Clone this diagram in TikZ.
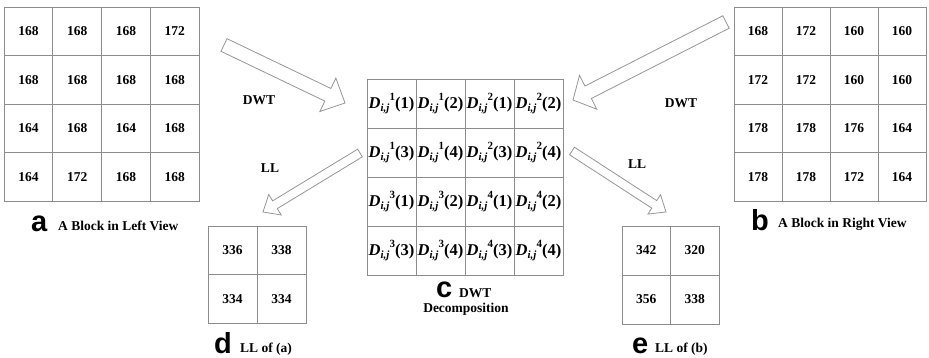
\documentclass[tikz,border=0pt]{standalone}
\usepackage{fontspec}
\setmainfont{Liberation Serif}
\newfontfamily\lblfont{Liberation Sans}
\usetikzlibrary{calc}
\definecolor{gridgray}{RGB}{140,140,140}
\definecolor{arrgray}{RGB}{150,150,150}
\newcommand\Dl[2]{\textbf{\textit{D}}\raisebox{-0.4ex}{\fontsize{11}{11}\selectfont\textbf{\textit{i,j}}}\raisebox{0.95ex}{\fontsize{11}{11}\selectfont\textbf{#1}}\textbf{(#2)}}
\newcommand\blockarrow[5]{%
  \coordinate (tmpB) at ($(#2)!#5!(#1)$);
  \draw[arrowline] ($(#1)!#3!90:(#2)$) -- ($(tmpB)!#3!90:(#2)$) -- ($(tmpB)!#4!90:(#2)$) -- (#2)
    -- ($(tmpB)!#4!-90:(#2)$) -- ($(tmpB)!#3!-90:(#2)$) -- ($(#1)!#3!-90:(#2)$) -- cycle;}
\tikzset{
  cell/.style={draw=gridgray, line width=0.8pt, inner sep=0pt, font=\bfseries\fontsize{13.5}{13.5}\selectfont},
  dcell/.style={draw=gridgray, line width=0.8pt, inner sep=0pt, font=\fontsize{16.5}{16.5}\selectfont},
  arrowline/.style={draw=arrgray, line width=0.8pt, fill=white, line join=miter},
  txt/.style={font=\bfseries\fontsize{13.5}{13.5}\selectfont, inner sep=0pt},
  big/.style={font=\lblfont\bfseries\fontsize{29}{29}\selectfont, inner sep=0pt},
}
\begin{document}
\begin{tikzpicture}[x=1pt,y=-1pt]
\useasboundingbox[fill=white] (0,0) rectangle (929,358);
% grid a
\foreach \v [count=\k from 0] in {168,168,168,172,168,168,168,168,164,168,164,168,164,172,168,168} {
  \pgfmathsetmacro\cx{4+24.375+48.75*mod(\k,4)}
  \pgfmathsetmacro\cy{7+24.25+48.5*int(\k/4)}
  \node[cell, minimum width=48.75pt, minimum height=48.5pt] (a-\k) at (\cx,\cy) {\v};
}
% grid b
\foreach \v [count=\k from 0] in {168,172,160,160,172,172,160,160,178,178,176,164,178,178,172,164} {
  \pgfmathsetmacro\cx{734+24+48*mod(\k,4)}
  \pgfmathsetmacro\cy{7+24.25+48.5*int(\k/4)}
  \node[cell, minimum width=48pt, minimum height=48.5pt] (b-\k) at (\cx,\cy) {\v};
}
% grid c
\foreach \v [count=\k from 0] in {\Dl{1}{1},\Dl{1}{2},\Dl{2}{1},\Dl{2}{2},\Dl{1}{3},\Dl{1}{4},\Dl{2}{3},\Dl{2}{4},\Dl{3}{1},\Dl{3}{2},\Dl{4}{1},\Dl{4}{2},\Dl{3}{3},\Dl{3}{4},\Dl{4}{3},\Dl{4}{4}} {
  \pgfmathsetmacro\cx{367+24.5+49*mod(\k,4)}
  \pgfmathsetmacro\cy{79+24.5+49*int(\k/4)}
  \node[dcell, minimum width=49pt, minimum height=49pt] (c-\k) at (\cx,\cy) {\v};
}
% grid d
\foreach \v [count=\k from 0] in {336,338,334,334} {
  \pgfmathsetmacro\cx{208+24.5+49*mod(\k,2)}
  \pgfmathsetmacro\cy{226+24.25+48.5*int(\k/2)}
  \node[cell, minimum width=49pt, minimum height=48.5pt] (d-\k) at (\cx,\cy) {\v};
}
% grid e
\foreach \v [count=\k from 0] in {342,320,356,338} {
  \pgfmathsetmacro\cx{622+24.25+48.5*mod(\k,2)}
  \pgfmathsetmacro\cy{226+24.5+49*int(\k/2)}
  \node[cell, minimum width=48.5pt, minimum height=49pt] (e-\k) at (\cx,\cy) {\v};
}
% arrows
\coordinate (dwtL-tail) at (224,45);
\coordinate (dwtL-tip) at (345,103);
\coordinate (dwtR-tail) at (726,22);
\coordinate (dwtR-tip) at (573,100);
\coordinate (llL-tail) at (360,153);
\coordinate (llL-tip) at (263,212);
\coordinate (llR-tail) at (572,151);
\coordinate (llR-tip) at (666,212);
\blockarrow{dwtL-tail}{dwtL-tip}{7pt}{18.5pt}{19pt}
\blockarrow{dwtR-tail}{dwtR-tip}{7pt}{19pt}{17pt}
\blockarrow{llL-tail}{llL-tip}{4.5pt}{12pt}{14pt}
\blockarrow{llR-tail}{llR-tip}{4.5pt}{11.5pt}{14pt}
% arrow labels
\node[txt] (dwtL-lbl) at (259,100) {DWT};
\node[txt] (dwtR-lbl) at (681,103) {DWT};
\node[txt] (llL-lbl) at (270,168) {LL};
\node[txt] (llR-lbl) at (637,164) {LL};
% captions
\node[big, anchor=base west] (a-cap) at (31,232) {a};
\node[txt, anchor=base west] (a-txt) at (58,231) {A Block in Left View};
\node[big, anchor=base west] (b-cap) at (751,230) {b};
\node[txt, anchor=base west] (b-txt) at (778,228) {A Block in Right View};
\node[big, anchor=base west] (c-cap) at (436,297) {c};
\node[txt, anchor=base west] (c-txt) at (459,297) {DWT};
\node[txt, anchor=base] (c-txt2) at (466,312) {Decomposition};
\node[big, anchor=base west] (d-cap) at (214,353) {d};
\node[txt, anchor=base west] (d-txt) at (240,352) {LL of (a)};
\node[big, anchor=base west] (e-cap) at (632,353) {e};
\node[txt, anchor=base west] (e-txt) at (655,352) {LL of (b)};
\end{tikzpicture}
\end{document}
